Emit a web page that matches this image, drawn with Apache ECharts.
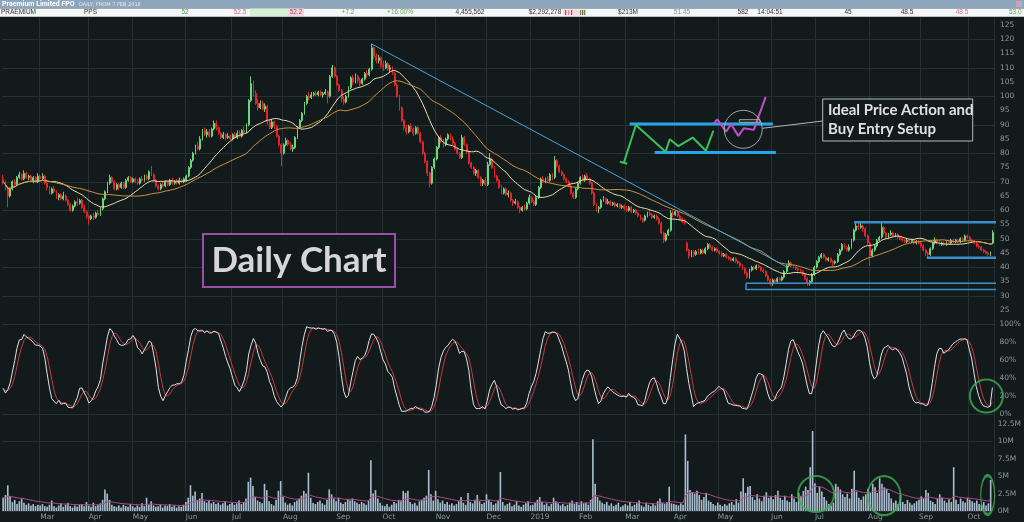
<!DOCTYPE html>
<html><head><meta charset="utf-8">
<script src="https://cdn.jsdelivr.net/npm/echarts@6/dist/echarts.min.js"></script>
<style>html,body{margin:0;padding:0;background:#131a1c;}#c{width:1024px;height:522px;}</style>
</head><body><div id="c"></div><script>
// ---------- DATA ----------
// candles: [open, close, low, high]
const candles2018 = [
// Feb 2018 (from 7 Feb)
[71,70,69,72.5],[70,68,67,70.5],[68,65,61,68.5],[65,67.5,64.5,68],[67.5,70,67,70.5],[70,69,68,71],[69,71.5,68.5,72],[71.5,72.5,71,73.5],[72.5,71,70.5,73],[71,73,70.5,74],[73,71.5,71,73.5],[71.5,72,70.5,72.5],[72,70.5,70,72.5],[70.5,71.5,69.5,72],[71.5,70,69.5,72],[70,72,69.5,73],
// Mar
[72,71,70,72.5],[71,72,70.5,73],[72,69.5,69,72.5],[69.5,68,67,70],[68,66,65.5,68.5],[66,67.5,65.5,68],[67.5,66.5,66,68.5],[66.5,64.5,64,67],[64.5,65.5,63.5,66],[65.5,64,63.5,66],[64,65,63.5,66.5],[65,63.5,63,65.5],[63.5,62,61.5,64],[62,60,59.5,62.5],[60,61.5,59.5,62],[61.5,63,61,63.5],[63,62.5,61.5,64.5],[62.5,63.5,62,64],[63.5,61,60.5,64],[61,59.5,59,62],[59.5,58,57,60],
// Apr
[58,57,55,58.5],[57,58,56.5,58.5],[58,57.5,56.5,59],[57.5,59,57,59.5],[59,58.5,58,60],[58.5,60.5,58,61],[60.5,64,60,64.5],[64,66.5,63.5,67],[66.5,69.5,66,70],[69.5,71.5,69,72.5],[71.5,70,69.5,72],[70,67.5,67,70.5],[67.5,69,67,69.5],[69,68,67,69.5],[68,69.5,67.5,70],[69.5,68,67.5,70],[68,70.5,67.5,71],[70.5,71.5,70,72],[71.5,70,69.5,72],
// May
[70,71,69.5,71.5],[71,70,69.5,71.5],[70,69.5,69,71],[69.5,71,69,71.5],[71,70.5,70,72],[70.5,72,70,72.5],[72,71,70.5,72.5],[71,73.5,70.5,74],[73.5,72.5,72,75.5],[72.5,70.5,70,73],[70.5,68.5,68,71],[68.5,67.5,67,69],[67.5,69,67,69.5],[69,68.5,68,70],[68.5,70,68,70.5],[70,69,68.5,70.5],[69,70.5,68.5,71],[70.5,69.5,69,71.5],[69.5,70,69,70.5],[70,69.5,69,71],[69.5,70.5,69,71.5],[70.5,70,69.5,71],[70,71,69.5,71.5],
// Jun
[70.5,72,70,72.5],[72,75,71.5,75.5],[75,77.5,74.5,78],[77.5,80,77,80.5],[80,82.5,79.5,83],[82.5,81.5,81,84],[81.5,85,81,86],[85,88,84.5,88.5],[88,86.5,86,89],[86.5,87.5,85.5,88.5],[87.5,86,85.5,88.5],[86,88.5,85.5,89],[88.5,90.5,88,91.5],[90.5,89,88,91.5],[89,87,86.5,89.5],[87,85.5,85,87.5],[85.5,86.5,85,87.5],[86.5,85.5,84.5,87],[85.5,86,85,87],[86,85,84.5,86.5],
// Jul
[85,86.5,84.5,87],[86.5,85.5,85,87.5],[85.5,87,85,88],[87,86,85.5,88],[86,88,85.5,88.5],[88,87.5,87,89.5],[87.5,90,87,90.5],[90,98.5,89.5,99],[98.5,104.5,98,107],[104.5,101,100,105.5],[101,97.5,97,102],[97.5,96,95,99],[96,97.5,95.5,98.5],[97.5,95.5,95,98.5],[95.5,96.5,94.5,97.5],[96.5,91,90,97],[91,89,88.5,92],[89,91,88.5,92],[91,89.5,88.5,91.5],[89.5,86,85.5,90],[86,83,82.5,86.5],[83,80,75.5,83.5],
// Aug
[80,83,79.5,83.5],[83,84.5,82.5,85.5],[84.5,83,82.5,85],[83,81.5,81,84],[81.5,82,80.5,83],[82,85.5,81.5,86],[85.5,89,85,89.5],[89,91.5,88.5,92],[91.5,94,91,94.5],[94,97.5,93.5,98],[97.5,100,97,100.5],[100,99.5,98.5,101.5],[99.5,100.5,99,101.5],[100.5,101,100,101.5],[101,100.5,100,102],[100.5,101.5,100,102],[101.5,100.5,100,102],[100.5,101,99.5,101.5],[101,101.5,100.5,102.5],[101.5,100,97.5,102],[100,107,99.5,107.5],[107,110,106.5,111],[110,107,106.5,110.5],
// Sep
[107,104,103.5,107.5],[104,102,101.5,104.5],[102,99,98,102.5],[99,98,97,100],[98,100,97.5,100.5],[100,103,99.5,103.5],[103,106.5,102.5,107],[106.5,105,104,107.5],[105,107,104.5,108],[107,105.5,104.5,107.5],[105.5,104.5,103.5,106.5],[104.5,106,104,106.5],[106,108,105.5,108.5],[108,107.5,106.5,109],[107.5,109.5,107,110],[109.5,117,109,118.5],[117,114,113,117.5],[114,112.5,111.5,115],[112.5,113.5,111.5,114.5],[113.5,111,110,114],
// Oct
[111,110,109,112.5],[110,111.5,109.5,112.5],[111.5,109.5,109,112],[109.5,110,108.5,111],[110,108,107.5,110.5],[108,104,103.5,108.5],[104,100,99.5,104.5],[100,96,95,100.5],[96,91.5,91,96.5],[91.5,89,88,92],[89,87.5,86.5,90],[87.5,89.5,87,90],[89.5,88.5,87.5,90.5],[88.5,87,86,89],[87,89,86.5,89.5],[89,87,86.5,89.5],[87,84,83.5,87.5],[84,80,79.5,84.5],[80,77,76.5,80.5],[77,73,72,77.5],[73,69.5,68,73.5],[69.5,75,69,75.5],[75,78,74.5,78.5],
// Nov
[78,82,77.5,82.5],[82,85.5,81.5,86],[85.5,84,83.5,86.5],[84,83,82,85],[83,85,82.5,85.5],[85,86.5,84.5,87],[86.5,85,84.5,87],[85,83.5,83,86],[83.5,81.5,81,84],[81.5,80,79.5,82],[80,78.5,78,80.5],[78.5,85.5,78,86.5],[85.5,83,82.5,86],[83,80.5,80,83.5],[80.5,76.5,76,81],[76.5,75,74.5,77],[75,73,72.5,75.5],[73,74,72,74.5],[74,71.5,71,74.5],[71.5,69.5,68.5,72],[69.5,70.5,68.5,71],[70.5,69,68.5,71.5],
// Dec
[69,76,68.5,77],[76,78,75.5,80],[78,75,74.5,78.5],[75,72,71.5,75.5],[72,70.5,70,72.5],[70.5,68,67.5,71],[68,66,65.5,69],[66,67.5,65.5,68],[67.5,65.5,65,68],[65.5,66,64.5,67],[66,63.5,63,66.5],[63.5,62.5,61.5,64],[62.5,63,62,64],[63,61,60.5,63.5],[61,60,59,61.5],[60,61,59.5,61.5],[61,60.5,60,62],[60.5,62.5,60,63],[62.5,64.5,62,65.5]
];
const candles2019 = [
// Jan 2019
[64.5,63,62.5,65],[63,62,61.5,63.5],[62,64.5,61.5,65],[64.5,68,64,68.5],[68,71,67.5,71.5],[71,70,69.5,72],[70,71,69.5,71.5],[71,70.5,70,72],[70.5,72.5,70,73],[72.5,71.5,70.5,73],[71.5,77.5,71,79],[77.5,75.5,75,78],[75.5,73.5,73,76],[73.5,72.5,72,74],[72.5,71,70.5,73],[71,70,69.5,71.5],[70,68.5,68,70.5],[68.5,66,65.5,69],[66,64.5,64,66.5],[64.5,67.5,64,68],[67.5,69.5,67,70],
// Feb
[69.5,71.5,69,72],[71.5,70.5,70,72.5],[70.5,72,70,72.5],[72,71,70.5,73],[71,69.5,69,71.5],[69.5,66,65.5,70],[66,62,61.5,66.5],[62,60.5,59.5,62.5],[60.5,61,59,61.5],[61,63.5,60.5,64],[63.5,64,63,65],[64,62.5,62,64.5],[62.5,63,62,64],[63,62,61.5,63.5],[62,62.5,61.5,63],[62.5,61.5,61,63],[61.5,62,61,62.5],[62,61,60.5,62.5],[61,61.5,60.5,62],[61.5,60.5,60,62],
// Mar
[60.5,60,59.5,61.5],[60,61,59.5,61.5],[61,59.5,59,61.5],[59.5,60,59,60.5],[60,59,58.5,60.5],[59,58,57.5,59.5],[58,57,56.5,58.5],[57,56.5,55.5,57.5],[56.5,58,56,58.5],[58,59,57.5,59.5],[59,58.5,58,60],[58.5,57.5,57,59],[57.5,58,57,58.5],[58,57,56.5,58.5],[57,55.5,55,57.5],[55.5,52,51.5,56],[52,49.5,48.5,52.5],[49.5,51.5,49,52],[51.5,53,51,53.5],[53,59,52.5,60],[59,58.5,57.5,60],
// Apr
[58.5,59.5,58,60],[59.5,58,57.5,60],[58,57,56.5,58.5],[57,56,55.5,57.5],[56,55.5,55,57],[48.5,46,45.5,49],[46,44,43,46.5],[44,45.5,43.5,46],[45.5,44.5,43.5,46],[44.5,45.5,44,46],[45.5,45,44.5,46.5],[45,46,44.5,46.5],[46,45,44.5,46.5],[45,46.5,44.5,47],[46.5,48,46,48.5],[48,47,46.5,48.5],[47,46,45.5,47.5],[46,46.5,45.5,47],[46.5,45.5,45,47],
// May
[45.5,45,44.5,46],[45,44,43.5,45.5],[44,44.5,43.5,45],[44.5,43.5,43,45],[43.5,43,42.5,44],[43,42.5,42,43.5],[42.5,43,42,43.5],[43,42,41.5,43.5],[42,41.5,41,42.5],[41.5,40.5,40,42],[40.5,39.5,39,41],[39.5,38,37.5,40],[38,36.5,36,38.5],[36.5,39,36,39.5],[39,40,38.5,40.5],[40,39.5,39,40.5],[39.5,40.5,39,41],[40.5,40,39.5,41],[40,39,38.5,40.5],[39,38.5,38,39.5],[38.5,37,36.5,39],[37,35.5,35,37.5],[35.5,34.5,33.5,36],
// Jun
[34.5,35.5,33.5,36],[35.5,35,34.5,36],[35,36,34.5,36.5],[36,35.5,35,36.5],[35.5,36.5,35,37],[36.5,38.5,36,39],[38.5,40.5,38,41],[40.5,41.5,40,42.5],[41.5,40.5,40,42],[40.5,40,39.5,41],[40,39.5,39,40.5],[39.5,39,38.5,40],[39,38.5,38,39.5],[38.5,37.5,37,39],[37.5,36,35.5,38],[36,34.5,33.5,36.5],[34.5,35,33.5,35.5],[35,37.5,34.5,38],[37.5,40,37,40.5],
// Jul
[40,42,39.5,42.5],[42,43.5,41.5,44],[43.5,44.5,43,45],[44.5,43.5,43,45],[43.5,42.5,42,44],[42.5,43,42,43.5],[43,42,41.5,43.5],[42,41.5,40.5,42.5],[41.5,42,41,42.5],[42,44.5,41.5,45],[44.5,46,44,46.5],[46,48,45.5,48.5],[48,47,46.5,48.5],[47,46,45.5,47.5],[46,47,45.5,48],[47,49.5,46.5,50],[49.5,53,49,53.5],[53,54.5,52.5,55.5],[54.5,54,53,55.5],[54,54.5,53.5,55.5],[54.5,53.5,52.5,55],[53.5,51,50.5,54],[51,48.5,48,51.5],
// Aug
[48.5,44,40.5,49],[44,46,43.5,46.5],[46,47.5,45.5,48],[47.5,49.5,47,50],[49.5,50.5,49,51],[50.5,54,50,55.5],[54,52,51.5,54.5],[52,50.5,50,52.5],[50.5,51.5,50,52],[51.5,52,51,53],[52,51,50.5,52.5],[51,51.5,50.5,52],[51.5,50.5,50,52],[50.5,50,49.5,51],[50,49.5,49,50.5],[49.5,49,48.5,50],[49,49.5,48.5,50],[49.5,49,48.5,50],[49,49.5,48.5,50],[49.5,48.5,48,50],[48.5,49,48,49.5],[49,48.5,48,49.5],
// Sep
[48.5,47.5,47,49],[47.5,46,45.5,48],[46,45,44,46.5],[45,44.5,43.5,45.5],[44.5,46.5,44,47],[46.5,48.5,46,49],[48.5,49.5,48,50.5],[49.5,48.5,48,50],[48.5,48,47.5,49.5],[48,48.5,47.5,49],[48.5,48,47.5,49],[48,49,47.5,49.5],[49,48.5,48,49.5],[48.5,49.5,48,50],[49.5,49,48.5,50],[49,49.5,48.5,50],[49.5,49,48.5,50],[49,50,48.5,50.5],[50,49.5,49,50.5],[49.5,51,49,51.5],[51,50.5,50,51.5],
// Oct (to 15 Oct)
[50.5,49.5,49,51],[49.5,49,48.5,50],[49,48.5,48,49.5],[48.5,47.5,47,49],[47.5,47,46.5,48],[47,46,45.5,47.5],[46,45.5,45,46.5],[45.5,45,44.5,46],[45,44.5,44,45.5],[44.5,45,44,45.5],[48.5,52.2,48.5,53]
];
// volume, millions of shares
const volume2018 = [
1.9,2.3,3.7,2.1,1.3,1.6,1.0,1.4,1.8,1.2,0.9,1.1,0.8,1.0,0.7,0.9,
0.8,1.0,0.7,0.6,0.9,1.5,0.7,0.5,0.8,1.1,0.6,0.9,1.2,0.7,0.5,0.8,0.6,0.9,1.0,0.7,1.3,
0.8,0.6,1.2,0.7,0.9,1.1,1.6,3.1,2.5,1.6,0.9,0.7,0.6,0.8,0.5,0.9,0.7,0.6,1.0,
0.7,0.5,0.8,0.6,1.1,0.7,1.9,0.9,1.4,0.8,0.6,0.7,0.9,0.5,0.8,0.7,1.0,0.6,0.8,0.5,0.7,0.6,0.9,
1.3,1.9,3.7,2.2,2.8,1.6,1.8,2.6,1.4,1.2,1.5,1.1,1.3,1.0,1.2,0.9,1.1,1.4,0.8,1.0,
1.2,0.9,1.1,1.5,1.0,1.3,1.8,4.2,4.8,3.6,2.0,1.5,1.3,1.1,3.9,3.0,1.4,1.0,0.8,1.6,2.9,4.3,
2.0,1.2,0.9,1.1,0.8,1.3,1.5,1.8,2.2,2.9,2.5,5.5,1.9,1.2,1.0,1.3,1.5,1.1,0.9,1.6,3.1,2.4,1.8,
1.4,1.9,1.2,1.0,1.3,1.7,1.5,1.8,1.4,1.2,1.0,1.3,1.1,0.9,1.5,7.3,2.5,3.0,1.8,1.2,
0.8,0.7,1.0,0.6,0.9,1.3,1.1,1.6,1.4,2.9,2.6,2.9,1.3,1.0,1.2,0.8,1.4,1.6,1.9,2.2,5.9,2.4,1.5,
2.9,1.7,1.2,1.5,1.0,1.3,0.9,1.1,0.8,1.0,1.4,2.0,1.2,0.9,2.6,1.3,1.1,1.6,2.3,1.4,1.0,1.2,
2.4,1.6,1.3,0.9,1.1,1.5,5.6,1.3,0.8,1.0,1.2,0.7,0.9,1.4,0.8,0.6,0.9,1.1,1.4
];
const volume2019 = [
0.8,0.9,1.2,1.6,2.0,1.3,0.9,1.1,0.7,1.0,1.9,1.4,1.1,0.8,1.0,0.7,0.9,1.2,1.5,1.0,1.3,
0.9,1.4,1.1,1.2,0.9,1.6,10.3,3.9,2.0,1.5,1.2,1.0,1.3,0.8,1.1,0.7,0.9,1.2,0.6,0.8,
1.0,0.8,1.3,0.7,0.9,1.1,1.5,0.8,0.6,1.2,0.9,0.7,1.0,0.8,1.4,1.8,1.2,1.0,1.3,3.5,1.1,
1.0,0.9,0.8,1.1,0.9,11.0,7.2,3.0,2.7,2.5,2.9,2.3,1.6,2.0,2.6,1.5,1.3,1.0,0.8,
1.2,0.9,0.7,1.0,0.8,1.1,1.3,0.9,1.7,1.2,2.8,4.7,2.6,3.5,3.6,2.0,1.6,2.4,1.8,1.4,2.2,2.7,1.9,
2.1,1.7,2.3,2.9,1.9,1.6,2.2,1.5,1.3,2.4,1.8,1.3,2.6,2.2,2.9,3.5,3.0,6.3,11.5,
4.0,2.6,3.5,2.8,2.0,1.5,1.0,0.8,1.2,3.9,3.5,3.1,2.4,2.0,2.5,1.8,3.2,5.8,2.8,1.9,1.6,2.1,2.4,
3.2,2.6,3.9,3.4,2.6,4.7,3.9,3.4,3.2,2.6,1.8,1.2,1.5,1.0,2.3,1.3,1.0,1.6,1.2,0.9,1.1,1.4,
1.6,2.1,1.8,3.0,2.6,1.5,1.3,1.0,1.8,2.4,1.9,1.5,1.2,1.7,1.3,6.3,1.6,1.0,1.8,1.4,1.2,
1.9,1.6,1.4,1.2,1.5,1.0,0.9,1.3,0.8,1.1,4.46
];
// ASX market holidays inside the range (trading calendar)
const holidays = ['2018-03-30','2018-04-02','2018-04-25','2018-06-11','2018-12-25','2018-12-26','2019-01-01','2019-01-28','2019-04-19','2019-04-22','2019-04-25','2019-06-10'];
const monthNames = ['Jan','Feb','Mar','Apr','May','Jun','Jul','Aug','Sep','Oct','Nov','Dec'];
// annotation drawings: [trading-day position, price]
const trendLine = [[159.1,118.3],[338.1,40.1]];
const resistanceLine = [[367.1,55.8],[431.3,55.8]];
const supportLine = [[398.5,43.3],[431.3,43.3]];
const rangeBox = [[320.5,34.4],[431.3,34.4],[431.3,32.2],[320.5,32.2],[320.5,34.4]];
const setupTop = [[270.3,90.3],[332.1,90.3]];
const setupBottom = [[281.1,80.3],[333.4,80.3]];
const setupGreen = [[266.1,77.0],[269.3,76.3],[267.8,76.65],[273.0,89.9],[285.8,80.5],[287.6,84.9],[291.3,82.5],[297.5,85.5],[303.2,80.9],[306.4,87.9]];
const setupMagenta = [[306.4,90.2],[308.1,91.9],[311.9,87.6],[314.1,90.2],[317.2,86.1],[319.6,88.8],[323.9,88.2],[325.4,91.7],[329.0,99.8]];
const setupCircle = [[319.3,88.4]];
const stochCircle = [[424.4,20.1]];
const volCircles = [[351.5,2.44,36,36],[380.9,2.2,33,39],[425.7,2.3,14,39]];

// ---------- DERIVED ----------
const ohlc = candles2018.concat(candles2019);
const volumes = volume2018.concat(volume2019);
const dates = [];
(function(){
  let t = Date.UTC(2018,1,7); const end = Date.UTC(2019,9,15);
  while (t <= end) {
    const d = new Date(t); const wd = d.getUTCDay(); const s = d.toISOString().slice(0,10);
    if (wd !== 0 && wd !== 6 && holidays.indexOf(s) < 0) dates.push(s);
    t += 86400000;
  }
})();
const N = dates.length;
function isMonthStart(i){ return i > 0 && dates[i] && dates[i].slice(5,7) !== dates[i-1].slice(5,7); }
function monthLabel(v){ const m = +v.slice(5,7); return m === 1 ? v.slice(0,4) : monthNames[m-1]; }
function sma(a,n){ const out=[]; let s=0; for(let i=0;i<a.length;i++){ s+=a[i]; if(i>=n) s-=a[i-n]; out.push(+(s/Math.min(i+1,n)).toFixed(3)); } return out; }
function ema(a,n){ const k=2/(n+1); const out=[]; let e=a[0]; for(let i=0;i<a.length;i++){ e = i ? e + k*(a[i]-e) : a[i]; out.push(+e.toFixed(3)); } return out; }
const closes = ohlc.map(c=>c[1]), lows = ohlc.map(c=>c[2]), highs = ohlc.map(c=>c[3]);
const maFast = sma(closes,20), maSlow = sma(closes,40);
const rawK = closes.map((c,i)=>{ let hh=-Infinity, ll=Infinity; for(let j=Math.max(0,i-13);j<=i;j++){ hh=Math.max(hh,highs[j]); ll=Math.min(ll,lows[j]); } return hh>ll ? (c-ll)/(hh-ll)*100 : 50; });
const stochK = sma(rawK,4), stochD = sma(stochK,4);
const volMA = ema(volumes,20);

// ---------- CHART ----------
const BG = '#131a1c', GRID = '#273032', LBL = '#8b979c';
const chart = echarts.init(document.getElementById('c'));
const L = 2, R = 30;
const catBase = {type:'category', data:dates, boundaryGap:true, position:'bottom', axisLine:{show:false}, axisTick:{show:false}, axisLabel:{show:false}, splitLine:{show:false}};
const valX = g => ({type:'value', gridIndex:g, min:-0.5, max:N-0.5, show:false, position:'top'});
const yLbl = (g,min,max,iv,fmt) => ({type:'value', gridIndex:g, position:'right', min:min, max:max, interval:iv, axisLine:{show:false}, axisTick:{show:false}, splitLine:{show:false},
  axisLabel:{color:LBL, fontSize:7.5, fontFamily:'DejaVu Sans', margin:6, align:'left', formatter:fmt}});
const ySplit = (g,min,max,iv,colors) => ({type:'value', gridIndex:g, position:'right', min:min, max:max, interval:iv, axisLine:{show:false}, axisTick:{show:false}, axisLabel:{show:false},
  splitLine:{show:true, lineStyle:{color:colors || GRID, width:1}}});
const ann = (data,color,width) => ({type:'line', xAxisIndex:4, yAxisIndex:0, data:data, symbol:'none', clip:false, silent:true, z:5, lineStyle:{color:color, width:width}});

const priceLabelAxis = yLbl(0,20,130,5,v=>String(v));
priceLabelAxis.axisLabel.showMinLabel = false; priceLabelAxis.axisLabel.showMaxLabel = false;
const volLabelAxis = yLbl(2,0,12.5,2.5,v=>v+'M');

const option = {
  backgroundColor: BG,
  animation: false,
  grid: [
    {left:L, right:R, top:10.75, height:313.5},
    {left:L, right:R, top:324.5, height:89.5},
    {left:L, right:R, top:424, height:87},
    {left:L, right:R, top:16.5, height:494.5}
  ],
  xAxis: [
    Object.assign({}, catBase, {gridIndex:0}),
    Object.assign({}, catBase, {gridIndex:1}),
    Object.assign({}, catBase, {gridIndex:2, axisLabel:{show:true, interval:(i)=>isMonthStart(i), formatter:(v)=>monthLabel(v), color:LBL, fontSize:7.5, fontFamily:'DejaVu Sans', margin:2, align:'left'}}),
    Object.assign({}, catBase, {gridIndex:3, splitLine:{show:true, interval:(i)=>isMonthStart(i), lineStyle:{color:GRID, width:1}}}),
    valX(0), valX(1), valX(2)
  ],
  yAxis: [
    priceLabelAxis,
    ySplit(0,20,130,10),
    yLbl(1,0,100,20,v=>v+'%'),
    ySplit(1,0,100,100),
    volLabelAxis,
    ySplit(2,0,12.5,10,[GRID,GRID,'rgba(0,0,0,0)']),
    {type:'value', gridIndex:3, show:false, min:0, max:1}
  ],
  series: [
    {type:'candlestick', xAxisIndex:0, yAxisIndex:0, data:ohlc, barWidth:1.4, z:3,
      itemStyle:{color:'#2f6e3a', color0:'#e3262b', borderColor:'#6cd47a', borderColor0:'#e3262b', borderWidth:1}},
    {type:'line', xAxisIndex:0, yAxisIndex:0, data:maFast, symbol:'none', z:4, lineStyle:{color:'#e9dfae', width:1}},
    {type:'line', xAxisIndex:0, yAxisIndex:0, data:maSlow, symbol:'none', z:4, lineStyle:{color:'#cf953c', width:1}},
    ann(trendLine,'#4aa3d6',1),
    ann(resistanceLine,'#3a90c8',2.5),
    ann(supportLine,'#3a90c8',2.5),
    ann(rangeBox,'#3a90c8',1.5),
    ann(setupTop,'#26a6e8',3),
    ann(setupBottom,'#26a6e8',3),
    ann(setupGreen,'#3cc05c',2),
    ann(setupMagenta,'#c24fc8',2),
    {type:'scatter', xAxisIndex:4, yAxisIndex:0, data:setupCircle, symbol:'circle', symbolSize:38, silent:true, z:6,
      itemStyle:{color:'rgba(0,0,0,0)', borderColor:'#c4c4c4', borderWidth:1}},
    {type:'line', xAxisIndex:1, yAxisIndex:2, data:stochD, symbol:'none', lineStyle:{color:'#c63a3c', width:1}},
    {type:'line', xAxisIndex:1, yAxisIndex:2, data:stochK, symbol:'none', lineStyle:{color:'#dfe3e5', width:1}},
    {type:'scatter', xAxisIndex:5, yAxisIndex:2, data:stochCircle, symbol:'circle', symbolSize:33, silent:true, z:6,
      itemStyle:{color:'rgba(0,0,0,0)', borderColor:'#3cb054', borderWidth:2}},
    {type:'bar', xAxisIndex:2, yAxisIndex:4, data:volumes, barWidth:'70%', itemStyle:{color:'#a9bed0'}},
    {type:'line', xAxisIndex:2, yAxisIndex:4, data:volMA, symbol:'none', lineStyle:{color:'#b04a86', width:1}},
    {type:'scatter', xAxisIndex:6, yAxisIndex:4, symbol:'circle', silent:true, z:6,
      data:volCircles.map(c=>({value:[c[0],c[1]], symbolSize:[c[2],c[3]]})),
      itemStyle:{color:'rgba(0,0,0,0)', borderColor:'#3cb054', borderWidth:2}}
  ],
  graphic: []
};

// header strip and annotation boxes (layout in pixels)
const G = [];
const txt = (t,x,y,font,fill,align) => G.push({type:'text', z:101, x:x, y:y, style:{text:t, font:font, fill:fill, align:align||'left', verticalAlign:'middle', textAlign:align||'left', textVerticalAlign:'middle'}});
const rect = (x,y,w,h,fill,stroke,lw,z) => G.push({type:'rect', z:z||100, shape:{x:x,y:y,width:w,height:h}, style:{fill:fill||'none', stroke:stroke||'none', lineWidth:lw||0}});
rect(0,0,1024,8.5,'#8da6bc');
txt('Praemium Limited FPO',2,4.6,'bold 7px Roboto','#ffffff');
txt('DAILY, FROM 7 FEB 2018',79,4.8,'5px "DejaVu Sans"','#e2eaf0');
rect(1016,1,6,6,'#c9a3bd');
rect(0,8.5,1024,8,'#f4f6f7');
rect(250,8.5,38,8,'#d8efd8');
rect(288,8.5,16,8,'#f3d6dc');
rect(563,9.5,23,6,'#f2dbe0');
[[565,'#d04050'],[568,'#e08a98'],[571,'#d04050'],[580,'#4aa04a'],[582,'#d04050'],[584,'#4aa04a']].forEach(b=>rect(b[0],10,1.2,5,b[1]));
G.push({type:'line', z:101, shape:{x1:0,y1:16.5,x2:1024,y2:16.5}, style:{stroke:'#b9c3c8', lineWidth:1}});
const headerCells = [
 ['PRAEMIUM',1,'left','#333'],['PPS',84,'left','#333'],['52',185,'center','#4f9f4f'],['52.5',240,'center','#c8707f'],
 ['52.2',296,'center','#a84a5a'],['+7.2',348,'center','#5aab5a'],['+16.00%',400,'center','#5aab5a'],['4,455,562',470,'center','#333'],
 ['$2,292,278',545,'center','#333'],['$213M',628,'center','#333'],['51.45',682,'center','#7f9a8c'],['582',743,'center','#333'],
 ['14:04:51',770,'center','#333'],['45',848,'center','#333'],['48.5',907,'center','#333'],['48.5',962,'center','#d07a8a'],['53.0',1009,'left','#5aab5a']
];
headerCells.forEach(c=>txt(c[0],c[1],12.6,'6.5px "Liberation Sans"',c[3],c[2]));
// "Daily Chart" box
rect(203,234,192,53,BG,'#9b4fa8',2,20);
G.push({type:'text', z:21, x:299, y:261, style:{text:'Daily Chart', font:'bold 35px Lato', fill:'#d6d6d6', align:'center', verticalAlign:'middle', textAlign:'center', textVerticalAlign:'middle'}});
// callout
G.push({type:'line', z:20, shape:{x1:762.3,y1:128.3,x2:822.7,y2:121}, style:{stroke:'#b5b5b5', lineWidth:1}});
rect(739.3,119.7,20.7,2.6,'none','#a8a8a8',1,20);
rect(822.7,99,150,42,BG,'#b8b8b8',1,20);
G.push({type:'text', z:21, x:828, y:110.5, style:{text:'Ideal Price Action and', font:'bold 15px Lato', fill:'#e0e0e0', align:'left', verticalAlign:'middle', textAlign:'left', textVerticalAlign:'middle'}});
G.push({type:'text', z:21, x:828, y:129.5, style:{text:'Buy Entry Setup', font:'bold 15px Lato', fill:'#e0e0e0', align:'left', verticalAlign:'middle', textAlign:'left', textVerticalAlign:'middle'}});
option.graphic = G;
chart.setOption(option);
</script></body></html>
